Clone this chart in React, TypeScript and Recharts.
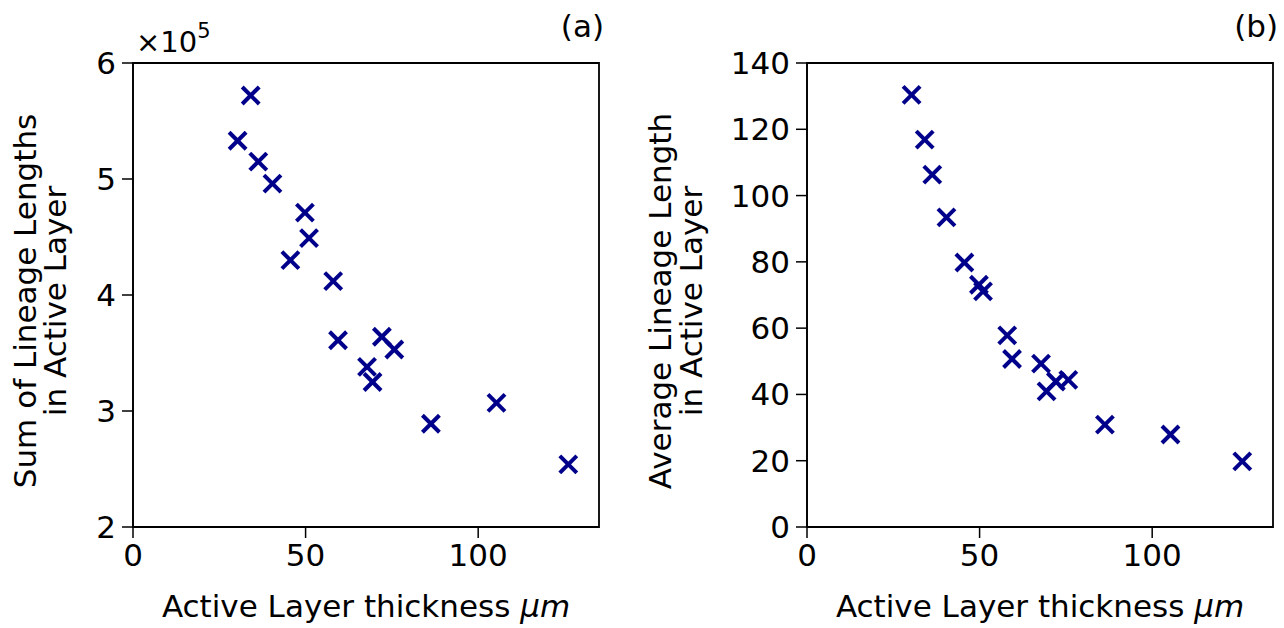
import React from 'react';
import { ScatterChart, Scatter, XAxis, YAxis, ReferenceArea } from 'recharts';

// values
const thickness = [30.3, 34.1, 36.3, 40.4, 45.6, 49.8, 51.0, 58.0, 59.4, 67.8, 69.4, 72.1, 75.7, 86.3, 105.3, 126.1];
const sumLengths = [533000, 572000, 515000, 496000, 430000, 471000, 449000, 412000, 361000, 338000, 325000, 364000, 353000, 289000, 307000, 254000];
const avgLengths = [130.4, 116.9, 106.3, 93.4, 79.8, 73.1, 71.1, 57.8, 50.7, 49.3, 40.9, 43.9, 44.4, 30.9, 27.9, 19.8];

const xTicks = [0, 50, 100];
const sumTicks = [200000, 300000, 400000, 500000, 600000];
const avgTicks = [0, 20, 40, 60, 80, 100, 120, 140];

const FONT = 'DejaVu Sans, sans-serif';
const FS = 31;
const MARKER = '#00008b';

const sumData = thickness.map((x, i) => ({ x, y: sumLengths[i] }));
const avgData = thickness.map((x, i) => ({ x, y: avgLengths[i] }));

const XMark = (props: any) => {
  const { cx, cy } = props;
  const r = 8.5;
  return (
    <g stroke={MARKER} strokeWidth={4} strokeLinecap="butt">
      <line x1={cx - r} y1={cy - r} x2={cx + r} y2={cy + r} />
      <line x1={cx - r} y1={cy + r} x2={cx + r} y2={cy - r} />
    </g>
  );
};

const XLabel = ({ viewBox }: any) => {
  const { x, y, width } = viewBox;
  return (
    <text x={x + width / 2} y={y + 90} textAnchor="middle" fontFamily={FONT} fontSize={FS} fill="#000">
      Active Layer thickness <tspan fontStyle="italic">μm</tspan>
    </text>
  );
};

const makeYLabel = (line1: string, line2: string, off1: number, off2: number) => ({ viewBox }: any) => {
  const { x, y, height } = viewBox;
  const cy = y + height / 2 + 6;
  return (
    <g fontFamily={FONT} fontSize={FS} fill="#000">
      <text x={x + off1} y={cy} textAnchor="middle" dominantBaseline="central" transform={`rotate(-90 ${x + off1} ${cy})`}>
        {line1}
      </text>
      <text x={x + off2} y={cy} textAnchor="middle" dominantBaseline="central" transform={`rotate(-90 ${x + off2} ${cy})`}>
        {line2}
      </text>
    </g>
  );
};

const tickStyle = { fontFamily: FONT, fontSize: FS, fill: '#000' };
const axisLine = { stroke: '#000', strokeWidth: 1.5 };

const Panel = (props: {
  data: { x: number; y: number }[];
  yDomain: [number, number];
  yTicks: number[];
  yFmt: (v: number) => string;
  yAxisWidth: number;
  rightMargin: number;
  yLabel: (p: any) => React.ReactElement;
}) => (
  <ScatterChart
    width={642}
    height={628}
    margin={{ top: 63, right: props.rightMargin, bottom: 0, left: 0 }}
  >
    <XAxis
      type="number"
      dataKey="x"
      domain={[0, 135]}
      ticks={xTicks}
      allowDataOverflow
      height={101}
      tickSize={11}
      tickMargin={6}
      tick={tickStyle}
      axisLine={axisLine}
      tickLine={axisLine}
      label={<XLabel />}
    />
    <YAxis
      type="number"
      dataKey="y"
      domain={props.yDomain}
      ticks={props.yTicks}
      allowDataOverflow
      width={props.yAxisWidth}
      tickSize={11}
      tickMargin={6}
      tick={tickStyle}
      tickFormatter={props.yFmt}
      axisLine={axisLine}
      tickLine={axisLine}
      label={props.yLabel}
    />
    <ReferenceArea
      x1={0}
      x2={135}
      y1={props.yDomain[0]}
      y2={props.yDomain[1]}
      fill="none"
      stroke="#000"
      strokeWidth={1.8}
    />
    <Scatter data={props.data} shape={XMark} isAnimationActive={false} />
  </ScatterChart>
);

const SumYLabel = makeYLabel('Sum of Lineage Lengths', 'in Active Layer', 25, 55);
const AvgYLabel = makeYLabel('Average Lineage Length', 'in Active Layer', 660 - 642, 691 - 642);

export default function App() {
  return (
    <div style={{ position: 'absolute', left: 0, top: 0, width: 1284, height: 628, background: '#fff', fontFamily: FONT }}>
      <div style={{ position: 'absolute', left: 0, top: 0 }}>
        <Panel
          data={sumData}
          yDomain={[200000, 600000]}
          yTicks={sumTicks}
          yFmt={(v) => String(v / 100000)}
          yAxisWidth={133}
          rightMargin={43}
          yLabel={(p: any) => <SumYLabel viewBox={{ x: 0, y: p.viewBox.y, height: p.viewBox.height }} />}
        />
      </div>
      <div style={{ position: 'absolute', left: 642, top: 0 }}>
        <Panel
          data={avgData}
          yDomain={[0, 140]}
          yTicks={avgTicks}
          yFmt={(v) => String(v)}
          yAxisWidth={165}
          rightMargin={11}
          yLabel={(p: any) => <AvgYLabel viewBox={{ x: 0, y: p.viewBox.y, height: p.viewBox.height }} />}
        />
      </div>
      <svg width={1284} height={628} style={{ position: 'absolute', left: 0, top: 0, pointerEvents: 'none' }}>
        <g fontFamily={FONT} fill="#000">
          <text x={136} y={52} fontSize={29}>
            ×10<tspan dy={-14} fontSize={21}>5</tspan>
          </text>
          <text x={604} y={37} fontSize={FS} textAnchor="end">(a)</text>
          <text x={1278} y={37} fontSize={FS} textAnchor="end">(b)</text>
        </g>
      </svg>
    </div>
  );
}
